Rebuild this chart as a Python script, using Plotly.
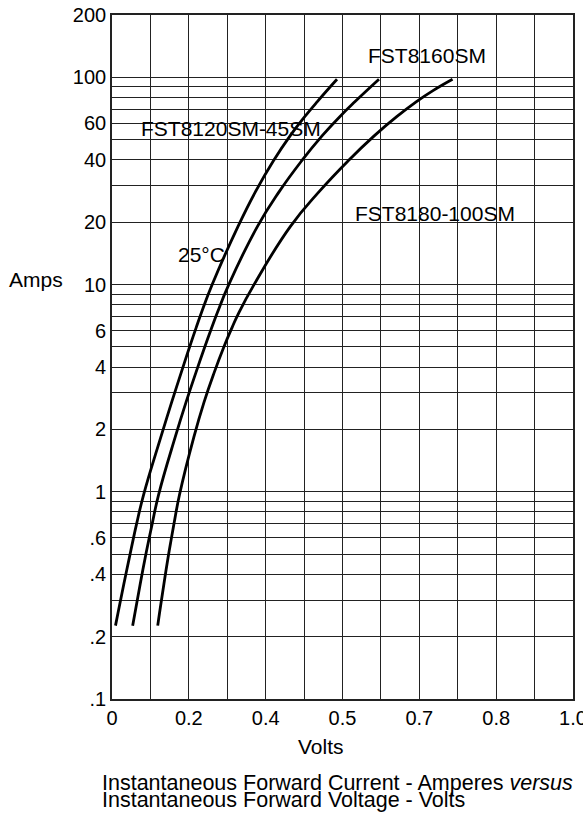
import plotly.graph_objects as go

# Forward voltage (V) vs instantaneous forward current (A)
current = [0.226, 0.26, 0.36, 0.477, 0.591, 0.706, 0.967, 1.83, 2.70, 3.76, 4.97, 6.20,
           7.33, 10.0, 19.1, 28.1, 39.5, 52.2, 64.6, 76.4, 97.9]

volts_8120 = [0.0076, 0.0130, 0.0258, 0.0373, 0.0461, 0.0537, 0.0685, 0.1057, 0.1293, 0.1501,
              0.1679, 0.1826, 0.1941, 0.2173, 0.2734, 0.3113, 0.3499, 0.3863, 0.4181, 0.4454,
              0.4881]
volts_8160 = [0.0448, 0.0498, 0.0613, 0.0717, 0.0802, 0.0875, 0.1010, 0.1369, 0.1605, 0.1820,
              0.2008, 0.2164, 0.2286, 0.2533, 0.3156, 0.3627, 0.4112, 0.4556, 0.4941, 0.5273,
              0.5791]

current_8180 = [0.226, 0.26, 0.36, 0.477, 0.591, 0.706, 0.967, 1.83, 2.70, 3.76, 4.97, 6.20,
                7.33, 10.0, 19.1, 28.1, 39.5, 52.2, 64.6, 76.4, 86.3, 97.9]
volts_8180 = [0.0992, 0.1031, 0.1127, 0.1213, 0.1285, 0.1347, 0.1464, 0.1774, 0.1995, 0.2216,
              0.2422, 0.2604, 0.2753, 0.3081, 0.3871, 0.4493, 0.5119, 0.5687, 0.6176, 0.6605,
              0.6963, 0.7387]

# Axis grid / tick labels
x_grid = [k / 12 for k in range(13)]
x_labels = ["0", "", "0.2", "", "0.4", "", "0.5", "", "0.7", "", "0.8", "", "1.0"]

y_grid = [0.1, 0.2, 0.3, 0.4, 0.5, 0.6, 0.7, 0.8, 0.9,
          1, 2, 3, 4, 5, 6, 7, 8, 9,
          10, 20, 30, 40, 50, 60, 70, 80, 90, 100, 200]
y_label_map = {0.1: ".1", 0.2: ".2", 0.4: ".4", 0.6: ".6", 1: "1", 2: "2", 4: "4", 6: "6",
               10: "10", 20: "20", 40: "40", 60: "60", 100: "100", 200: "200"}
y_labels = [y_label_map.get(v, "") for v in y_grid]

FONT = "Liberation Sans, Arial, sans-serif"

fig = go.Figure()
for xs, ys in [(volts_8120, current), (volts_8160, current), (volts_8180, current_8180)]:
    fig.add_trace(go.Scatter(x=xs, y=ys, mode="lines",
                             line=dict(color="black", width=2.8, shape="spline", smoothing=1.3),
                             showlegend=False, hoverinfo="skip"))

# series labels (y given in log10 units for the log axis)
annos = [
    dict(x=0.6824, y=2.108, text="FST8160SM"),
    dict(x=0.2585, y=1.751, text="FST8120SM-45SM"),
    dict(x=0.7015, y=1.344, text="FST8180-100SM"),
    dict(x=0.1945, y=1.143, text="25°C"),
]
for a in annos:
    fig.add_annotation(x=a["x"], y=a["y"], xref="x", yref="y", text=a["text"],
                       xanchor="center", yanchor="middle",
                       showarrow=False, font=dict(size=21, color="black", family=FONT))

fig.add_annotation(x=-0.1644, y=0.6127, xref="paper", yref="paper", text="Amps",
                   xanchor="center", yanchor="middle",
                   showarrow=False, font=dict(size=21, family=FONT, color="black"))
fig.add_annotation(x=0.4523, y=-0.0697, xref="paper", yref="paper", text="Volts",
                   xanchor="center", yanchor="middle",
                   showarrow=False, font=dict(size=21, family=FONT, color="black"))
fig.add_annotation(x=-0.027, y=-0.1223, xref="paper", yref="paper", xanchor="left",
                   yanchor="middle",
                   text="Instantaneous Forward Current - Amperes <i>versus</i>",
                   showarrow=False, font=dict(size=21.5, family=FONT, color="black"))
fig.add_annotation(x=-0.027, y=-0.1479, xref="paper", yref="paper", xanchor="left",
                   yanchor="middle",
                   text="Instantaneous Forward Voltage - Volts",
                   showarrow=False, font=dict(size=21.5, family=FONT, color="black"))

fig.update_layout(
    width=583, height=820,
    margin=dict(l=112, r=10, t=15, b=121),
    paper_bgcolor="white", plot_bgcolor="white",
    font=dict(family=FONT, size=20, color="black"),
    xaxis=dict(range=[0, 1], tickmode="array", tickvals=x_grid, ticktext=x_labels,
               showgrid=True, gridcolor="#222", gridwidth=1.4, zeroline=False,
               showline=True, linecolor="#222", linewidth=1.6, mirror=True,
               ticks="", tickfont=dict(size=20), automargin=False,
               ticklabeloverflow="allow"),
    yaxis=dict(type="log", range=[-1, 2.30103], tickmode="array", tickvals=y_grid,
               ticktext=y_labels, showgrid=True, gridcolor="#222", gridwidth=1.4,
               zeroline=False, showline=True, linecolor="#222", linewidth=1.6, mirror=True,
               ticks="", tickfont=dict(size=20), automargin=False,
               ticklabeloverflow="allow"),
)

fig.write_html("out.html", config={"displayModeBar": False},
               post_script="document.body.style.margin='0';document.body.style.overflow='hidden';")
